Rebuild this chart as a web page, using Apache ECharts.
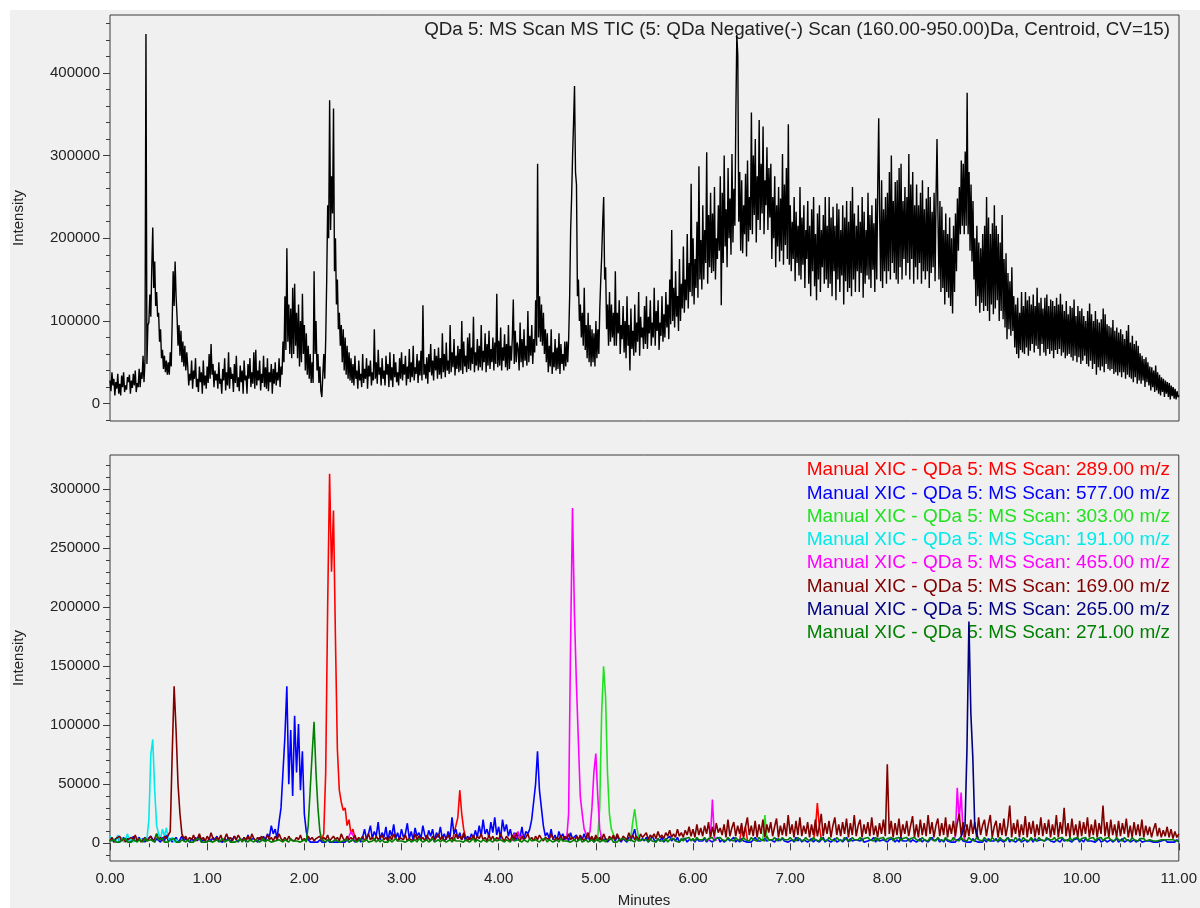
<!DOCTYPE html>
<html>
<head>
<meta charset="utf-8">
<title>QDa 5: MS Scan TIC and XIC</title>
<script src="https://cdn.jsdelivr.net/npm/echarts@6/dist/echarts.min.js"></script>
<style>
  html, body { margin: 0; padding: 0; background: #ffffff; }
  #panel { position: absolute; left: 10px; top: 10px; width: 1190px; height: 898px; background: #f0f0f0; }
  #chart { position: absolute; left: 0; top: 0; width: 1200px; height: 908px; }
</style>
</head>
<body>
<div id="panel"></div>
<div id="chart"></div>
<script>
// Scan spacing in minutes; intensities are stored in thousands of counts.
const TIC_STEP = 0.01;
const XIC_STEP = 0.02;
const K = 1000;

// Total ion chromatogram, 0.00 .. 11.00 min (one row = 0.1 min)
const ticK = [
  28,15,38,22,30,10,26,18,36,12,  24,10,34,20,38,14,22,17,32,26,
  35,12,28,19,36,22,40,14,25,20,  42,20,38,30,58,26,52,447,48,95,
  98,132,105,165,213,140,172,118,135,105,  110,75,90,55,65,42,58,38,52,35,
  50,35,62,45,100,160,118,172,130,105,  70,95,58,88,50,75,45,70,40,62,
  45,22,36,28,52,18,40,30,55,20,  30,14,45,26,38,12,52,22,34,18,
  45,25,60,30,72,35,48,20,40,28,  36,18,50,24,30,12,42,28,55,16,
  38,22,62,18,44,30,36,14,48,25,  58,20,32,15,46,26,40,12,52,28,
  34,12,48,30,55,20,38,24,62,18,  65,22,40,28,52,16,36,25,58,20,
  44,18,55,15,38,26,48,12,42,24,  50,22,38,28,55,20,45,35,75,50,
  130,65,188,75,120,60,115,55,140,60,  145,70,110,55,120,45,100,50,133,60,
  95,40,85,35,70,30,60,25,50,25,  160,60,100,40,60,25,45,15,8,35,
  60,30,80,150,240,200,367,210,275,230,  357,160,200,120,150,90,110,70,95,50,
  90,40,80,35,70,30,62,28,55,25,  48,22,58,30,40,18,52,28,36,20,
  60,25,42,30,55,18,46,33,52,22,  38,28,90,30,50,24,65,35,44,22,
  55,30,40,22,58,35,48,20,62,28,  44,20,60,32,50,26,38,22,55,30,
  62,28,48,35,58,22,45,30,66,26,  50,32,70,28,44,36,60,25,52,34,
  64,28,119,35,48,30,56,24,60,38,  72,34,52,28,66,40,58,30,68,35,
  55,30,85,38,60,32,74,40,52,36,  95,38,62,44,78,34,58,42,70,38,
  66,40,100,36,75,45,58,38,80,42,  85,40,68,48,105,38,62,46,78,40,
  70,44,95,40,64,50,85,38,72,46,  88,42,66,50,80,40,74,48,133,44,
  76,46,92,40,68,52,84,44,72,40,  95,42,70,52,80,126,48,88,50,74,
  66,40,98,50,78,44,90,52,70,46,  112,50,82,58,95,48,78,62,125,70,
  290,80,130,75,120,70,110,60,90,50,  85,38,70,45,90,36,62,44,78,40,
  68,42,85,36,72,48,60,40,75,45,  75,50,80,130,210,250,300,340,384,280,
  265,130,150,100,120,80,110,70,140,65,  95,55,110,50,95,45,90,50,85,45,
  100,55,90,60,115,150,180,220,250,150,  165,90,120,70,135,75,120,80,110,70,
  160,70,110,85,125,60,95,78,118,62,  100,55,130,70,95,40,115,66,88,58,
  120,62,98,75,135,58,105,80,92,66,  118,72,130,66,105,85,125,70,98,80,
  140,70,112,88,125,65,98,82,130,75,  108,80,135,92,120,78,150,96,210,100,
  140,92,160,105,130,88,175,100,145,115,  190,110,150,125,205,115,170,135,266,130,
  200,120,175,140,220,128,287,150,198,138,  240,150,210,170,304,145,228,165,255,158,
  230,160,262,150,200,175,240,185,275,119,  255,170,300,190,235,165,285,200,248,180,
  302,195,260,215,350,446,421,220,280,185,  270,182,240,205,278,178,294,196,250,210,
  352,205,300,228,320,195,275,222,343,210,  290,230,335,205,270,240,310,210,285,225,
  290,175,250,200,275,165,240,190,262,172,  248,185,302,168,265,192,285,175,338,168,
  240,160,220,175,250,148,232,170,215,155,  262,150,225,168,240,140,210,175,245,145,
  215,130,235,160,250,142,205,125,230,150,  240,135,210,165,228,145,250,150,215,140,
  250,145,225,130,238,160,215,125,242,150,  235,135,210,155,240,120,225,148,245,135,
  220,140,245,130,262,150,230,135,215,160,  240,135,220,158,250,128,232,145,210,155,
  255,150,228,140,240,162,218,135,248,150,  262,345,225,148,270,140,235,160,250,145,
  255,160,280,150,300,170,245,158,268,150,  270,145,285,165,290,150,245,175,262,155,
  250,170,302,150,265,175,280,145,240,165,  265,150,240,170,255,145,270,160,235,150,
  248,160,262,140,250,158,232,165,255,148,  250,320,225,150,245,135,238,140,210,120,
  230,135,205,128,225,118,200,109,215,135,  230,160,248,185,262,205,294,215,290,205,
  305,215,376,205,280,185,265,172,245,150,  200,118,215,130,195,110,188,122,205,112,
  215,118,250,112,225,100,205,120,218,108,  240,115,215,125,205,100,195,112,228,102,
  175,92,182,78,158,90,148,82,165,88,  130,68,120,60,128,55,110,65,135,62,
  118,60,135,68,125,58,130,64,120,72,  132,62,118,70,140,66,122,58,128,72,
  115,62,128,58,132,66,118,60,126,64,  124,55,118,65,128,60,120,66,133,58,
  120,62,112,55,124,58,108,60,118,56,  116,52,126,58,106,50,118,56,112,48,
  115,52,106,58,100,48,112,45,121,52,  108,42,100,48,112,35,102,44,98,40,
  102,45,115,38,108,48,96,42,94,40,  92,42,101,36,88,38,92,34,86,38,
  90,32,84,38,78,30,88,35,95,32,  74,30,82,26,72,32,76,24,70,28,
  61,24,58,28,54,20,56,26,50,22,  45,16,44,20,40,14,46,16,38,12,
  35,10,32,14,30,8,28,12,26,8,  25,5,22,9,20,6,18,5,15,8,
  10
];

// Extracted ion chromatograms. Each trace is a list of runs; a run starts at the
// matching time in its *Starts array and advances by XIC_STEP.
const mz289Starts = [2.18, 3.52, 6.48, 7.24];
const mz289K = [
  [3,8,60,200,313,230,282,175,80,45,35,28,30,15,20,8,12,5,2],
  [2,8,15,22,45,25,12,5,2],
  [2,12,6,14,3],
  [3,12,34,15,4]
];

const mz577Starts = [0];
const mz577K = [[
  2,4,1,3,6, 1,3,5,2,4, 3,1,6,2,3, 5,2,4,1,3, 2,6,3,1,4, 3,1,5,2,7, 2,4,1,3,5, 1,3,6,2,4,
  3,1,4,2,5, 2,6,1,3,4, 1,4,2,5,3, 6,2,3,1,4, 2,5,1,3,6, 3,1,4,2,5, 1,7,3,2,4, 3,1,5,2,6,
  2,8,5,15,8, 12,4,18,30,60, 90,133,50,96,40, 108,60,101,45,78, 25,10,3,1,2, 1,2,1,3,1,
  2,1,3,1,2, 1,2,1,2,1, 2,1,3,1,2, 3,1,2,4,1, 5,12,3,8,15, 4,10,6,18,3, 9,5,14,2,11, 6,16,4,9,3,
  12,5,8,17,4, 10,3,13,6,9, 4,15,7,3,11, 6,12,2,9,5, 14,4,8,3,10, 5,22,8,12,4, 9,3,7,2,6,
  3,8,4,11,5, 15,6,20,8,12, 5,18,9,22,7, 14,4,20,10,16, 6,12,4,9,3, 8,5,14,3,10, 8,12,20,35,50,
  78,45,30,15,6, 9,4,12,3,7, 2,10,5,8,3, 6,2,9,4,3, 7,2,5,3,8, 3,6,2,4,1, 5,2,3,6,2, 4,1,3,2,5,
  2,6,3,1,4, 3,1,5,2,3, 12,3,5,2,4, 2,5,1,3,6, 3,1,4,2,5, 1,3,2,6,2, 4,2,5,1,3, 2,4,1,3,2,
  3,1,4,2,1, 2,4,1,3,2, 1,3,2,5,1, 3,1,2,4,2, 2,5,1,3,1, 4,2,3,1,2, 1,3,5,2,3, 2,1,4,2,1,
  3,2,1,4,2, 1,4,2,3,1, 2,3,1,5,2, 4,1,3,2,1, 2,4,1,3,2, 1,2,5,1,3, 3,1,2,4,1, 2,3,1,2,5,
  1,4,2,1,3, 3,2,4,1,2, 2,1,3,5,1, 4,2,1,3,2, 1,3,2,4,1, 3,1,5,2,3, 2,4,1,3,2, 1,2,4,1,3,
  3,1,2,5,2, 2,4,1,3,1, 4,2,3,1,2, 1,3,2,4,2, 3,1,2,1,4, 2,3,1,2,1, 3,1,4,2,1, 2,4,1,3,2,
  1,2,5,1,3, 3,1,2,4,1, 2,3,1,2,4, 1,4,2,1,3, 3,2,1,4,2, 2,1,3,2,1, 4,2,1,3,2, 1,3,2,4,1,
  3,1,4,2,1, 2,3,1,2,4, 1,2,3,1,2, 3,1,2,4,1, 2,4,1,2,3, 1,2,3,1,2, 3,1,2,2,1, 2,3,1,2,1,
  1,2,1,3,1, 2,1,2,1,3, 1
]];

const mz303Starts = [5.00, 5.34, 6.70];
const mz303K = [
  [2,5,30,110,150,125,60,25,12,8,3],
  [2,5,18,29,15,5,2],
  [2,4,24,5,2]
];

const mz191Starts = [0];
const mz191K = [
  [6,2,4,1,7,2,5,1,3,8,2,4,1,3,5,2,4,2,5,3,20,75,88,45,15,8,4,12,6,13,4,2,5,1,3,2]
];

const mz465Starts = [2.44, 4.14, 4.70, 6.16, 8.68];
const mz465K = [
  [2,6,10,7,3],
  [2,8,5,10,4,7,2],
  [3,25,168,284,195,136,88,40,25,12,8,5,10,30,60,76,40,12,4],
  [2,5,37,6,2],
  [2,6,47,20,43,8,2]
];

const mz169Starts = [0];
const mz169K = [[
  2,5,1,4,3, 6,2,4,1,3, 2,5,3,7,2, 4,1,3,5,2, 3,6,2,4,8, 3,5,2,6,4, 3,10,75,133,96, 50,25,8,4,6,
  2,5,3,7,2, 4,8,3,5,2, 6,3,9,4,2, 5,3,7,2,4, 8,3,5,2,6, 3,7,4,2,5, 3,6,2,8,4, 2,5,3,6,2,
  4,7,3,5,2, 6,3,8,4,2, 5,2,6,3,4, 2,5,3,7,2, 4,2,6,3,5, 2,4,3,6,2, 5,3,7,2,4, 6,3,5,2,8,
  4,2,6,3,5, 3,7,2,5,3, 6,2,4,8,3, 5,2,6,3,4, 7,3,5,2,6, 3,8,4,2,5, 6,3,7,2,4, 5,2,8,3,6,
  3,5,2,7,4, 2,6,3,5,8, 3,6,2,4,7, 3,5,2,8,4, 6,3,9,4,2, 5,3,7,2,6, 4,8,3,5,2, 7,3,6,2,5,
  3,8,4,2,6, 5,2,7,3,9, 4,2,6,3,5, 8,3,5,2,6, 3,7,4,2,5, 6,3,8,4,2, 5,3,7,2,6, 4,8,3,5,2,
  6,3,7,4,2, 5,9,3,6,2, 7,3,5,2,8, 4,2,6,3,7, 3,8,4,2,6, 5,3,9,4,7, 3,6,2,8,5, 4,9,3,7,5,
  8,4,10,5,7, 4,9,6,11,5, 8,5,12,6,9, 5,11,7,14,6,
  12,5,16,7,13, 6,15,8,18,5, 14,6,17,9,13, 7,16,5,20,6, 13,18,6,15,8, 17,5,14,22,7,
  15,6,19,5,16, 8,20,5,16,9, 18,6,14,21,5, 15,7,17,6,24, 8,16,5,19,7, 22,6,15,8,18,
  5,16,7,20,6, 14,25,6,17,8, 19,5,15,22,7, 16,6,18,8,21, 5,17,7,24,6, 15,20,5,16,8,
  18,6,22,7,15, 5,17,8,20,6, 67,8,19,5,17, 7,21,5,16,8, 19,6,15,23,5, 16,5,20,7,17,
  6,24,8,18,5, 15,21,6,17,7, 22,5,16,8,19, 6,17,25,7,18, 5,16,6,20,8, 18,5,22,7,15,
  20,6,16,24,5, 14,19,5,17,7, 21,6,15,32,5, 17,8,20,5,16, 7,23,5,18,8, 19,5,16,7,22,
  6,17,8,20,5, 16,7,24,5,18, 8,30,6,17,5, 21,7,16,5,19, 6,18,8,22,5, 16,7,20,5,17,
  8,32,6,18,5, 20,7,16,5,19, 6,17,8,21,5, 15,5,18,7,16, 6,20,5,15,7, 14,5,12,17,6,
  13,5,11,6,14, 5,12,4,10,5, 8
]];

const mz265Starts = [8.74];
const mz265K = [
  [3,6,5,15,80,188,110,73,15,8,3]
];

const mz271Starts = [0];
const mz271K = [[
  2,1,3,1,2, 1,3,2,4,1, 2,1,3,2,1, 3,2,1,4,2, 1,3,2,1,8, 3,2,4,1,2, 1,3,2,4,1, 2,1,3,2,1,
  3,1,2,1,3, 2,4,1,2,1, 1,2,3,1,2, 3,1,2,4,1, 2,3,1,2,1, 1,2,4,1,3, 2,1,3,2,1, 3,2,1,2,4,
  1,3,2,1,2, 2,1,3,2,1, 3,2,1,4,2, 1,2,3,1,2, 3,1,15,45,75, 103,60,30,10,3, 2,1,3,2,1,
  1,3,2,1,2, 2,1,3,1,2, 3,2,1,2,4, 1,2,3,1,2, 2,4,1,3,1, 3,1,2,1,3, 1,2,4,2,1, 2,3,1,2,3,
  1,2,3,1,4, 3,1,2,3,1, 2,4,1,2,3, 1,3,2,1,2, 3,1,4,2,1, 2,3,1,3,2, 1,2,4,1,3, 2,1,3,2,1,
  3,2,1,4,2, 1,3,2,1,3, 2,1,4,2,1, 3,2,1,3,2, 1,4,2,1,3, 2,1,3,2,4, 1,3,2,1,2, 3,1,4,2,1,
  2,3,1,2,3, 1,2,4,1,2, 3,1,2,3,1, 2,4,1,2,3, 1,3,2,4,1, 2,1,3,2,4, 3,2,1,3,2, 1,4,2,1,3,
  2,3,1,4,2, 3,1,4,2,3, 2,4,1,3,2, 4,2,3,1,4, 2,4,3,5,2,
  4,2,5,3,4, 3,5,2,4,3, 5,2,4,3,5, 3,4,2,5,3, 4,2,5,3,4, 2,5,3,4,2, 5,3,4,2,5, 3,4,2,6,3,
  4,3,5,2,4, 2,5,3,4,3, 5,3,4,2,5, 3,4,2,5,3, 4,2,5,3,4, 2,5,3,4,2, 5,3,4,2,5, 3,4,2,5,3,
  4,2,5,3,4, 3,5,2,4,3, 5,3,4,2,5, 2,4,3,5,2, 4,3,5,2,4, 3,5,2,4,3, 5,2,4,3,5, 3,4,2,5,3,
  4,2,5,3,4, 2,5,3,4,2, 5,3,4,2,5, 3,4,2,5,3, 4,2,5,3,4, 2,5,3,4,2, 5,3,4,2,5, 3,4,2,5,3,
  4,2,5,3,4, 2,5,3,4,2, 5,3,4,2,5, 3,4,2,5,3, 4,2,5,3,4, 3,5,2,4,3, 5,3,4,2,5, 2,4,3,5,2,
  4,3,5,2,4, 3,5,2,4,3, 5,2,4,3,5, 3,4,2,5,3, 4,2,5,3,4, 2,5,3,4,2, 4,3,4,2,3, 3,4,2,3,2,
  2,3,2,3,2, 3,2,3,2,2, 2
]];

// Axis ticks
const minuteTicks = [0, 1, 2, 3, 4, 5, 6, 7, 8, 9, 10, 11];
const ticTicks = [0, 100000, 200000, 300000, 400000];
const xicTicks = [0, 50000, 100000, 150000, 200000, 250000, 300000];

const ticTitle = 'QDa 5: MS Scan MS TIC (5: QDa Negative(-) Scan (160.00-950.00)Da, Centroid, CV=15)';
const xicNames = [
  'Manual XIC - QDa 5: MS Scan: 289.00 m/z',
  'Manual XIC - QDa 5: MS Scan: 577.00 m/z',
  'Manual XIC - QDa 5: MS Scan: 303.00 m/z',
  'Manual XIC - QDa 5: MS Scan: 191.00 m/z',
  'Manual XIC - QDa 5: MS Scan: 465.00 m/z',
  'Manual XIC - QDa 5: MS Scan: 169.00 m/z',
  'Manual XIC - QDa 5: MS Scan: 265.00 m/z',
  'Manual XIC - QDa 5: MS Scan: 271.00 m/z'
];
const xicColors = ['#ff0000', '#0000ff', '#22e022', '#00eaea', '#ff00ff', '#800000', '#000080', '#008000'];
const xicStarts = [mz289Starts, mz577Starts, mz303Starts, mz191Starts, mz465Starts, mz169Starts, mz265Starts, mz271Starts];
const xicValues = [mz289K, mz577K, mz303K, mz191K, mz465K, mz169K, mz265K, mz271K];

// Turn runs of evenly spaced readings into [minutes, counts] pairs, with a gap between runs.
function trace(starts, runs, step) {
  const pts = [];
  runs.forEach((run, r) => {
    if (r > 0) pts.push([starts[r] - step / 2, '-']);
    run.forEach((v, i) => pts.push([+(starts[r] + i * step).toFixed(3), v * K]));
  });
  return pts;
}

function range(from, to, step) {
  const out = [];
  for (let v = from; v <= to + 1e-9; v += step) out.push(v);
  return out;
}

const FONT = "'Liberation Sans', Arial, sans-serif";
const INK = '#222222';
const FRAME = '#3a3a3a';

const grids = [
  { left: 110, top: 15, width: 1069, height: 406 },
  { left: 110, top: 455, width: 1069, height: 406 }
];

function majorY(gridIndex, min, max, ticks) {
  return {
    type: 'value', gridIndex, min, max, position: 'left',
    axisLine: { show: false },
    splitLine: { show: false },
    axisTick: { show: true, customValues: ticks, length: 7, lineStyle: { color: FRAME } },
    axisLabel: { show: true, customValues: ticks, margin: 10, fontSize: 15, fontFamily: FONT, color: INK,
      formatter: v => String(v) }
  };
}
function minorY(gridIndex, min, max, ticks) {
  return {
    type: 'value', gridIndex, min, max, position: 'left', offset: 0,
    axisLine: { show: false },
    splitLine: { show: false },
    axisTick: { show: true, customValues: ticks, length: 4, lineStyle: { color: FRAME } },
    axisLabel: { show: false }
  };
}

const series = [{
  name: 'TIC', type: 'line', xAxisIndex: 0, yAxisIndex: 0,
  data: trace([0], [ticK], TIC_STEP),
  showSymbol: false, symbol: 'none',
  lineStyle: { color: '#000000', width: 1.4 },
  silent: true, clip: true
}];
xicNames.forEach((name, i) => {
  series.push({
    name, type: 'line', xAxisIndex: 1, yAxisIndex: 2,
    data: trace(xicStarts[i], xicValues[i], XIC_STEP),
    showSymbol: false, symbol: 'none',
    lineStyle: { color: xicColors[i], width: 1.6 },
    silent: true, clip: true
  });
});

const graphics = [
  { type: 'text', x: 1170, y: 30, style: { text: ticTitle, align: 'right', verticalAlign: 'middle', font: '18.8px ' + FONT, fill: INK } },
  { type: 'text', x: 19, y: 218, rotation: Math.PI / 2, style: { text: 'Intensity', align: 'center', verticalAlign: 'middle', font: '15px ' + FONT, fill: INK } },
  { type: 'text', x: 19, y: 658, rotation: Math.PI / 2, style: { text: 'Intensity', align: 'center', verticalAlign: 'middle', font: '15px ' + FONT, fill: INK } },
  { type: 'text', x: 644, y: 901, style: { text: 'Minutes', align: 'center', verticalAlign: 'middle', font: '15px ' + FONT, fill: INK } }
];
xicNames.forEach((name, i) => {
  graphics.push({ type: 'text', x: 1170, y: 470 + i * 23.3, style: { text: name, align: 'right', verticalAlign: 'middle', font: '19px ' + FONT, fill: xicColors[i] } });
});

const chart = echarts.init(document.getElementById('chart'), null, { renderer: 'canvas' });
chart.setOption({
  backgroundColor: 'transparent',
  animation: false,
  grid: grids.map(g => Object.assign({ show: true, borderColor: FRAME, borderWidth: 1, backgroundColor: 'transparent', containLabel: false }, g)),
  xAxis: [
    { type: 'value', gridIndex: 0, min: 0, max: 11, interval: 1,
      axisLine: { show: false }, axisTick: { show: false }, axisLabel: { show: false }, splitLine: { show: false } },
    { type: 'value', gridIndex: 1, min: 0, max: 11, interval: 1,
      axisLine: { show: false }, splitLine: { show: false },
      axisTick: { show: true, length: 7, lineStyle: { color: FRAME } },
      minorTick: { show: true, splitNumber: 5, length: 4, lineStyle: { color: FRAME } },
      axisLabel: { margin: 10, fontSize: 15, fontFamily: FONT, color: INK,
        formatter: v => minuteTicks.includes(v) ? v.toFixed(2) : '' } }
  ],
  yAxis: [
    majorY(0, -21000, 470000, ticTicks),
    minorY(0, -21000, 470000, range(-20000, 460000, 20000)),
    majorY(1, -15000, 329000, xicTicks),
    minorY(1, -15000, 329000, range(-10000, 320000, 10000))
  ],
  series,
  graphic: graphics
});
</script>
</body>
</html>
